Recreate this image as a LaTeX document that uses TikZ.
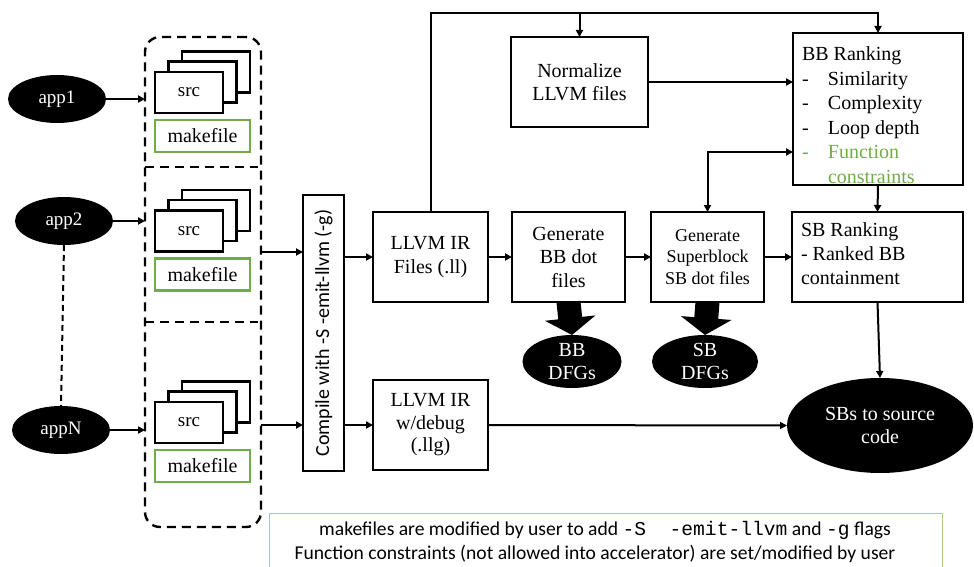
\documentclass[tikz,border=0pt]{standalone}
\usepackage{fontspec}
\setmainfont{Liberation Serif}
\newfontfamily\tnr{Liberation Serif}
\newfontfamily\calfont{Carlito}
\newfontfamily\mymono{Liberation Mono}
\usetikzlibrary{arrows.meta,shapes.geometric,calc}
\definecolor{mkgreen}{HTML}{70AD47}
\definecolor{notegreen}{HTML}{A9D18E}
\begin{document}
\begin{tikzpicture}[x=1pt,y=-1pt,
  every node/.style={inner sep=0pt, outer sep=0pt},
  box/.style={draw, line width=2.6pt, fill=white, align=center, font=\tnr\fontsize{20}{23.5}\selectfont},
  app/.style={ellipse, fill=black, text=white, minimum width=98pt, minimum height=48pt, font=\tnr\fontsize{19}{22}\selectfont},
  dfg/.style={ellipse, fill=black, text=white, align=center, font=\tnr\fontsize{20}{23}\selectfont},
  srcbox/.style={draw, line width=2.4pt, fill=white, minimum width=68pt, minimum height=41pt},
  mkbox/.style={draw=mkgreen, line width=2.4pt, minimum width=95pt, minimum height=32pt, font=\tnr\fontsize{20}{23}\selectfont},
  arr/.style={line width=2pt, -{Triangle[length=7pt,width=7pt]}},
  arrtwo/.style={line width=2pt, {Triangle[length=7pt,width=7pt]}-{Triangle[length=7pt,width=7pt]}},
  fat/.style={line width=24pt, -{Triangle[length=17pt,width=50pt]}},
  dashbox/.style={draw, line width=2.4pt, dash pattern=on 9pt off 6pt},
  notefont/.style={font=\calfont\fontsize{19.6}{24}\selectfont},
  rankfont/.style={font=\tnr\fontsize{20}{24.5}\selectfont},
]
\useasboundingbox (0,0) rectangle (974,567);

% apps
\node[app] (app1) at (57,99) {app1};
\node[app] (app2) at (64,221) {app2};
\node[app] (appN) at (61,430) {appN};
\draw[line width=2pt, dash pattern=on 6pt off 4pt] (app2.south) -- (appN.north);

% group box
\node[dashbox, rounded corners=15pt, minimum width=116pt, minimum height=490pt] (grp) at (203,282) {};
\coordinate (d1) at (258,167);
\coordinate (d2) at (258,322);
\draw[dashbox] (grp.west |- d1) -- (d1);
\draw[dashbox] (grp.west |- d2) -- (d2);

\draw[arr] (app1.east) -- (grp.west |- app1.east);
\draw[arr] (app2.east) -- (grp.west |- app2.east);
\draw[arr] (appN.east) -- (grp.west |- appN.east);

% src stacks and makefiles
\foreach \i/\dy in {1/0,2/138.5,3/330}{
  \node[srcbox] (srcb\i) at (216,72+\dy) {};
  \node[srcbox] (srcm\i) at (202.5,82+\dy) {};
  \node[srcbox, font=\tnr\fontsize{19}{22}\selectfont] (src\i) at (189,92.5+\dy) {src};
  \node[mkbox] (mk\i) at (202.5,136+\dy) {makefile};
}

% compile
\node[box, minimum width=41pt, minimum height=276pt] (cmp) at (323.5,333) {};
\node[rotate=90, font=\calfont\fontsize{20}{24}\selectfont] (cmptext) at (cmp.center) {Compile with -S -emit-llvm (-g)};
\coordinate (in1) at (261,252);
\coordinate (in2) at (261,425);
\draw[arr] (in1) -- (cmp.west |- in1);
\draw[arr] (in2) -- (cmp.west |- in2);

% main boxes
\node[box, minimum width=115pt, minimum height=90pt] (ll) at (430.5,257) {LLVM IR\\Files (.ll)};
\node[box, minimum width=115pt, minimum height=90pt, font=\tnr\fontsize{20}{22.5}\selectfont] (lg) at (430.5,425) {LLVM IR\\w/debug\\(.llg)};
\node[box, minimum width=113pt, minimum height=90pt] (gbb) at (568.5,257) {Generate\\BB dot\\files};
\node[box, minimum width=113pt, minimum height=90pt, font=\tnr\fontsize{18}{21.5}\selectfont] (gsb) at (707.5,257) {Generate\\Superblock\\SB dot files};
\node[box, minimum width=171pt, minimum height=90pt] (sbr) at (877.5,257) {};
\node[box, minimum width=137pt, minimum height=90pt, font=\tnr\fontsize{20}{23}\selectfont] (norm) at (579.5,82) {Normalize\\LLVM files};
\node[box, minimum width=170pt, minimum height=152pt] (bbr) at (878,109) {};

\node[anchor=west, align=left, rankfont] (bbrtext) at (802,115)
  {BB Ranking\\
   \makebox[26pt][l]{-}Similarity\\
   \makebox[26pt][l]{-}Complexity\\
   \makebox[26pt][l]{-}Loop depth\\
   \textcolor{mkgreen}{\makebox[26pt][l]{-}Function}\\
   \textcolor{mkgreen}{\hspace*{26pt}constraints}};
\node[anchor=west, align=left, font=\tnr\fontsize{20}{24}\selectfont] (sbrtext) at (801,254)
  {SB Ranking\\- Ranked BB\\containment};

% ellipses
\node[dfg, minimum width=99pt, minimum height=53pt] (bbdfg) at (572,361.5) {BB\\DFGs};
\node[dfg, minimum width=106pt, minimum height=53pt] (sbdfg) at (705,361.5) {SB\\DFGs};
\node[dfg, minimum width=186pt, minimum height=95pt] (sbs) at (880,425.5) {SBs to source\\code};

% fat arrows
\draw[fat] (gbb.south) -- (bbdfg.north);
\draw[fat] (gsb.south) -- (sbdfg.north);

% connectors
\draw[arr] (cmp.east |- ll.west) -- (ll.west);
\draw[arr] (cmp.east |- lg.west) -- (lg.west);
\draw[arr] (ll.east) -- (gbb.west);
\draw[arr] (gbb.east) -- (gsb.west);
\draw[arr] (gsb.east) -- (sbr.west);
\draw[arr] (bbr.south) -- (sbr.north);
\draw[arr] (sbr.south) -- (sbs.north);
\draw[arr] (lg.east) -- (sbs.west);
\coordinate (top) at (0,13);
\draw[arr] (ll.north) -- (ll.north |- top) -| (bbr.north);
\draw[arr] (norm.north |- top) -- (norm.north);
\draw[arr] (norm.east) -- (bbr.west |- norm.east);
\coordinate (fb) at (0,152);
\draw[arrtwo] (bbr.west |- fb) -| (gsb.north);

% note
\node[draw=notegreen, line width=1pt, minimum width=673pt, minimum height=70pt, anchor=north west] (note) at (269,513) {};
\node[notefont] (note1) at (605,530)
  {makefiles are modified by user to add {\mymono\fontsize{19.6}{24}\selectfont -S\ \ -emit-llvm}\ and {\mymono\fontsize{19.6}{24}\selectfont -g} flags};
\node[notefont] (note2) at (595,554)
  {Function constraints (not allowed into accelerator) are set/modified by user};
\end{tikzpicture}
\end{document}
